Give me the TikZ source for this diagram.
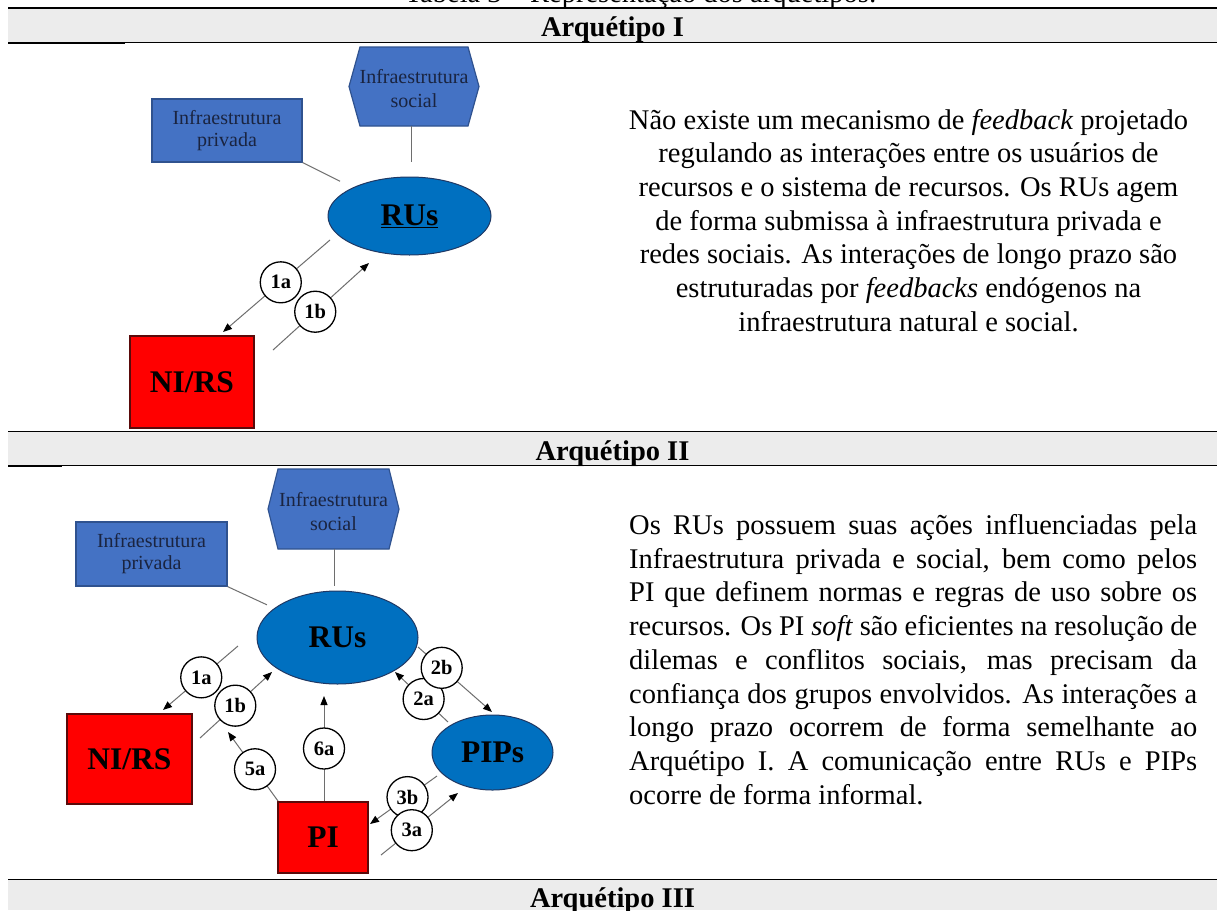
\documentclass[tikz,border=0pt]{standalone}
\usepackage{fontspec}
\setmainfont{Liberation Serif}
\usetikzlibrary{arrows.meta,shapes.geometric}

\definecolor{hdrgray}{HTML}{ECECEC}
\definecolor{boxblue}{HTML}{4472C4}
\definecolor{boxblueline}{HTML}{2F528F}
\definecolor{ellblue}{HTML}{0070C0}
\definecolor{ellline}{HTML}{1F3864}
\definecolor{redfill}{HTML}{FF0000}
\definecolor{redline}{HTML}{5A0A0A}
\definecolor{conngray}{HTML}{6E6E6E}
\definecolor{navytext}{HTML}{1A2440}

\tikzset{
  infbox/.style={rectangle, fill=boxblue, draw=boxblueline, line width=1.2pt, inner sep=0pt, align=center, text=navytext, font=\fontsize{20}{22}\selectfont},
  hexfill/.style={fill=boxblue, draw=boxblueline, line width=1.2pt},
  hextext/.style={inner sep=0pt, align=center, text=navytext, font=\fontsize{20}{24}\selectfont},
  ellnode/.style={ellipse, fill=ellblue, draw=ellline, line width=1pt, inner sep=0pt, font=\bfseries\fontsize{31.5}{32}\selectfont},
  rednode/.style={rectangle, fill=redfill, draw=redline, line width=1.3pt, inner sep=0pt, font=\bfseries\fontsize{31.5}{32}\selectfont},
  numc/.style={circle, fill=white, draw=black, line width=1.3pt, minimum size=41pt, inner sep=0pt, font=\bfseries\fontsize{20.5}{20.5}\selectfont},
  plainconn/.style={draw=conngray, line width=1pt},
  arrconn/.style={draw=conngray, line width=1pt, -{Triangle[length=9pt,width=7pt,color=black,fill=black]}},
  hdr/.style={font=\bfseries\fontsize{28.5}{33.7}\selectfont, anchor=base, inner sep=0pt},
  bodytxt/.style={font=\fontsize{28.5}{33.7}\selectfont, inner sep=0pt},
}

\begin{document}
\begin{tikzpicture}[x=1pt,y=-1pt]
\useasboundingbox (0,0) rectangle (1217,910);
\fill[white] (0,0) rectangle (1217,910);

% ---------- table rules and header bands ----------
\node[bodytxt, anchor=base east] (title) at (877,2) {Tabela 3 – Representação dos arquétipos:};

\fill[hdrgray] (8,8.5) rectangle (1217,42);
\draw[line width=2pt] (8,7.5) -- (1217,7.5);
\draw[line width=1.3pt] (8,42.5) -- (1217,42.5);
\draw[line width=2.4pt] (8,43) -- (125,43);
\node[hdr] (hI) at (612.5,36) {Arquétipo I};

\fill[hdrgray] (8,432) rectangle (1217,465.5);
\draw[line width=1.3pt] (8,431.7) -- (1217,431.7);
\draw[line width=1.3pt] (8,465.8) -- (1217,465.8);
\draw[line width=2.3pt] (8,466.3) -- (62,466.3);
\node[hdr] (hII) at (612.5,460) {Arquétipo II};

\fill[hdrgray] (8,880) rectangle (1217,910);
\draw[line width=1.3pt] (8,879.5) -- (1217,879.5);
\node[hdr] (hIII) at (612.5,907) {Arquétipo III};

% ---------- Arquetipo I diagram ----------
\path[hexfill] (414,86.5) ++(-65,0) -- ++(11,-39.5) -- ++(108,0) -- ++(11,39.5) -- ++(-11,39.5) -- ++(-108,0) -- cycle;
\node[hextext] (hexI) at (414,89) {Infraestrutura\\social};
\coordinate (hexIb) at (411,126);

\node[infbox, minimum width=150pt, minimum height=63pt] (privI) at (227,130.5) {Infraestrutura\\privada};
\node[ellnode, minimum width=163pt, minimum height=78pt] (rusI) at (409.5,216) {\underline{RUs}};
\node[rednode, minimum width=124pt, minimum height=92pt] (nirsI) at (192,382) {NI/RS};

\draw[plainconn, shorten >=15pt] (hexIb) -- (hexIb |- rusI.north);
\draw[plainconn, shorten >=14pt] (privI.south east) -- (rusI);

\coordinate (aIs) at (330,240);
\coordinate (aIe) at (223,332);
\coordinate (bIs) at (273,350);
\coordinate (bIe) at (369,263);
\draw[arrconn] (aIs) -- node[numc, pos=0.46] (n1aI) {1a} (aIe);
\draw[arrconn] (bIs) -- node[numc, pos=0.44] (n1bI) {1b} (bIe);

% ---------- Arquetipo I text ----------
\node[bodytxt, anchor=base] (tI1) at (908.5,129) {Não existe um mecanismo de \textit{feedback} projetado};
\node[bodytxt, anchor=base] (tI2) at (908.5,162.7) {regulando as interações entre os usuários de};
\node[bodytxt, anchor=base] (tI3) at (908.5,196.4) {recursos e o sistema de recursos. Os RUs agem};
\node[bodytxt, anchor=base] (tI4) at (908.5,230.1) {de forma submissa à infraestrutura privada e};
\node[bodytxt, anchor=base] (tI5) at (908.5,263.8) {redes sociais. As interações de longo prazo são};
\node[bodytxt, anchor=base] (tI6) at (908.5,297.5) {estruturadas por \textit{feedbacks} endógenos na};
\node[bodytxt, anchor=base] (tI7) at (908.5,331.2) {infraestrutura natural e social.};

% ---------- Arquetipo II diagram ----------
\path[hexfill] (333.5,509) ++(-65.5,0) -- ++(10,-40) -- ++(111,0) -- ++(10,40) -- ++(-10,40) -- ++(-111,0) -- cycle;
\node[hextext] (hexII) at (333.5,511.5) {Infraestrutura\\social};
\coordinate (hexIIb) at (334,549);

\node[infbox, minimum width=151pt, minimum height=64pt] (privII) at (151.5,554) {Infraestrutura\\privada};
\node[ellnode, minimum width=161pt, minimum height=93pt] (rusII) at (337.5,637.5) {RUs};
\node[rednode, minimum width=125pt, minimum height=90pt] (nirsII) at (129.5,759) {NI/RS};
\node[rednode, minimum width=90pt, minimum height=71pt] (piII) at (323,837.5) {PI};
\node[ellnode, minimum width=121pt, minimum height=75pt] (pipsII) at (492.5,752.5) {PIPs};

\draw[plainconn, shorten >=5pt] (hexIIb) -- (hexIIb |- rusII.north);
\draw[plainconn, shorten >=8pt] (privII.south east) -- (rusII);

\coordinate (aIIs) at (238,646);  \coordinate (aIIe) at (163,710);
\coordinate (bIIs) at (200,738);  \coordinate (bIIe) at (272,672);
\coordinate (fIIs) at (278,801);  \coordinate (fIIe) at (228,732);
\coordinate (sIIs) at (324,801);  \coordinate (sIIe) at (324,696);
\coordinate (cIIs) at (448,722);  \coordinate (cIIe) at (395,672);
\coordinate (dIIs) at (418,647);  \coordinate (dIIe) at (492,712);
\coordinate (gIIs) at (437,776);  \coordinate (gIIe) at (370,824);
\coordinate (hIIs) at (381,855);  \coordinate (hIIe) at (458,793);

\draw[arrconn] (aIIs) -- node[numc, pos=0.49] (n1aII) {1a} (aIIe);
\draw[arrconn] (bIIs) -- node[numc, pos=0.49] (n1bII) {1b} (bIIe);
\draw[arrconn] (fIIs) -- node[numc, pos=0.46] (n5aII) {5a} (fIIe);
\draw[arrconn] (sIIs) -- node[numc, pos=0.5] (n6aII) {6a} (sIIe);
\draw[arrconn] (cIIs) -- node[numc, pos=0.46] (n2aII) {2a} (cIIe);
\draw[arrconn] (dIIs) -- node[numc, pos=0.32] (n2bII) {2b} (dIIe);
\draw[arrconn] (gIIs) -- node[numc, pos=0.44] (n3bII) {3b} (gIIe);
\draw[arrconn] (hIIs) -- node[numc, pos=0.4] (n3aII) {3a} (hIIe);

% ---------- Arquetipo II text ----------
\node[bodytxt, anchor=base west] (tII1) at (629,534.5) {\makebox[568pt][s]{Os RUs possuem suas ações influenciadas pela}};
\node[bodytxt, anchor=base west] (tII2) at (629,568.2) {\makebox[568pt][s]{Infraestrutura privada e social, bem como pelos}};
\node[bodytxt, anchor=base west] (tII3) at (629,601.9) {\makebox[568pt][s]{PI que definem normas e regras de uso sobre os}};
\node[bodytxt, anchor=base west] (tII4) at (629,635.6) {\makebox[568pt][s]{recursos. Os PI \textit{soft} são eficientes na resolução de}};
\node[bodytxt, anchor=base west] (tII5) at (629,669.3) {\makebox[568pt][s]{dilemas e conflitos sociais, mas precisam da}};
\node[bodytxt, anchor=base west] (tII6) at (629,703.0) {\makebox[568pt][s]{confiança dos grupos envolvidos. As interações a}};
\node[bodytxt, anchor=base west] (tII7) at (629,736.7) {\makebox[568pt][s]{longo prazo ocorrem de forma semelhante ao}};
\node[bodytxt, anchor=base west] (tII8) at (629,770.4) {\makebox[568pt][s]{Arquétipo I. A comunicação entre RUs e PIPs}};
\node[bodytxt, anchor=base west] (tII9) at (629,804.1) {ocorre de forma informal.};
\end{tikzpicture}
\end{document}
